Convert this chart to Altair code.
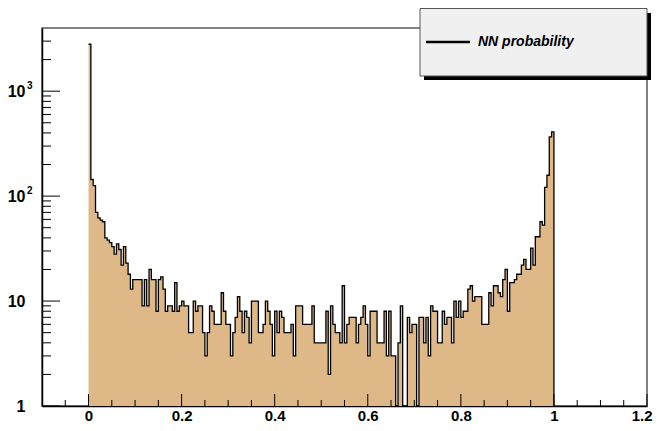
import altair as alt
import pandas as pd

# ---- data (200 bins of width 0.005 on [0, 1]) ----
counts = [
    2800, 144, 126, 70, 62, 59, 57, 40, 38, 36,
    33, 28, 35, 31, 22, 33, 23, 18, 13, 16,
    16, 16, 16, 9, 16, 9, 20, 16, 16, 8,
    16, 17, 13, 8, 9, 9, 8, 15, 8, 9,
    10, 9, 9, 5, 5, 10, 8, 9, 9, 5,
    3, 5, 9, 8, 6, 6, 6, 12, 8, 6,
    6, 3, 5, 7, 11, 8, 5, 8, 7, 4,
    10, 10, 10, 5, 5, 6, 10, 8, 6, 3,
    8, 5, 8, 7, 5, 5, 5, 6, 3, 9,
    9, 9, 6, 6, 6, 6, 9, 4, 4, 4,
    4, 4, 8, 2, 9, 6, 5, 5, 4, 14,
    4, 6, 7, 7, 7, 4, 6, 7, 9, 6,
    3, 8, 8, 8, 4, 4, 4, 8, 3, 8,
    3, 3, 0, 4, 9, 0, 0, 7, 5, 6,
    6, 0, 7, 7, 4, 7, 3, 9, 8, 8,
    4, 4, 8, 6, 7, 7, 4, 10, 7, 10,
    7, 8, 8, 13, 14, 10, 11, 11, 11, 6,
    6, 6, 12, 9, 14, 14, 12, 11, 16, 20,
    8, 15, 15, 16, 18, 18, 22, 25, 20, 20,
    32, 22, 41, 41, 57, 53, 121, 158, 367, 410,
]
hist_min = 0.0
hist_max = 1.0

x_major = [0.0, 0.2, 0.4, 0.6, 0.8, 1.0, 1.2]
x_minor = [-0.05, 0.05, 0.1, 0.15, 0.25, 0.3, 0.35, 0.45, 0.5, 0.55,
           0.65, 0.7, 0.75, 0.85, 0.9, 0.95, 1.05, 1.1, 1.15]
y_major = [1, 10, 100, 1000]
y_minor = [2, 3, 4, 5, 6, 7, 8, 9,
           20, 30, 40, 50, 60, 70, 80, 90,
           200, 300, 400, 500, 600, 700, 800, 900,
           2000, 3000]
sup_values = [100, 1000]
sup_texts = ["2", "3"]
legend_label = "NN probability"

# ---- layout / style ----
W, H = 605, 378
X_DOMAIN = [-0.1, 1.2]
Y_DOMAIN = [1, 4000]
FILL = "#DEB887"
FONT = "Liberation Sans"

n = len(counts)
bw = (hist_max - hist_min) / n
edges = [hist_min + i * bw for i in range(n)] + [hist_max]
shown = [max(c, 1) for c in counts]

step_df = pd.DataFrame({"x": edges, "y": shown + [shown[-1]], "base": 1})
step_df["order"] = range(len(step_df))
outline_df = pd.concat(
    [step_df, pd.DataFrame({"x": [hist_max], "y": [1], "base": [1], "order": [len(step_df)]})],
    ignore_index=True,
)

xs = alt.Scale(domain=X_DOMAIN, nice=False, zero=False)
ys = alt.Scale(type="log", domain=Y_DOMAIN, nice=False)

x_axis = alt.Axis(
    values=x_major, labelExpr="format(datum.value, '~g')", ticks=False, grid=False,
    labelFont=FONT, labelFontWeight="bold", labelFontSize=15, labelPadding=2,
    labelFlush=True, labelFlushOffset=5,
    domainColor="black", domainWidth=1.5, title=None, labelColor="black",
)
y_axis = alt.Axis(
    values=y_major, labelExpr="datum.value >= 100 ? '10' : format(datum.value, 'd')",
    ticks=False, grid=False, labelFont=FONT, labelFontWeight="bold", labelFontSize=16,
    labelPadding=17, domainColor="black", domainWidth=1.5, title=None, labelColor="black",
)

def X(field):
    return alt.X(field, type="quantitative", scale=xs, axis=x_axis)

def Y(field):
    return alt.Y(field, type="quantitative", scale=ys, axis=y_axis)

area = alt.Chart(step_df).mark_area(interpolate="step-after", color=FILL, opacity=1).encode(
    x=X("x"), y=Y("y"), y2="base:Q"
)
outline = alt.Chart(outline_df).mark_line(
    interpolate="step-after", color="black", strokeWidth=1.3
).encode(x=X("x"), y=Y("y"), order="order:Q")

xmaj = alt.Chart(pd.DataFrame({"x": x_major})).mark_rule(color="black", strokeWidth=1).encode(
    x=X("x"), y=alt.value(H), y2=alt.value(H - 12)
)
xmin = alt.Chart(pd.DataFrame({"x": x_minor})).mark_rule(color="black", strokeWidth=1).encode(
    x=X("x"), y=alt.value(H), y2=alt.value(H - 6)
)
ymaj = alt.Chart(pd.DataFrame({"y": y_major})).mark_rule(color="black", strokeWidth=1).encode(
    y=Y("y"), x=alt.value(0), x2=alt.value(18)
)
ymin = alt.Chart(pd.DataFrame({"y": y_minor})).mark_rule(color="black", strokeWidth=1).encode(
    y=Y("y"), x=alt.value(0), x2=alt.value(9)
)
sup = alt.Chart(pd.DataFrame({"y": sup_values, "t": sup_texts})).mark_text(
    font=FONT, fontWeight="bold", fontSize=10, align="left", baseline="middle", dy=-5, color="black"
).encode(y=Y("y"), x=alt.value(-15), text="t:N")

one = pd.DataFrame({"k": [0]})
shadow = alt.Chart(one).mark_rect(color="black").encode(
    x=alt.value(382), x2=alt.value(609), y=alt.value(-15), y2=alt.value(52)
)
box = alt.Chart(one).mark_rect(fill="#F0F0F0", stroke="#555555", strokeWidth=1).encode(
    x=alt.value(378), x2=alt.value(605), y=alt.value(-19.5), y2=alt.value(48)
)
leg_line = alt.Chart(one).mark_rule(color="black", strokeWidth=2.5).encode(
    x=alt.value(384), x2=alt.value(428), y=alt.value(14)
)
leg_text = alt.Chart(pd.DataFrame({"t": [legend_label]})).mark_text(
    font=FONT, fontWeight="bold", fontStyle="italic", fontSize=14, align="left",
    baseline="middle", color="black"
).encode(x=alt.value(436), y=alt.value(13.5), text="t:N")

chart = alt.layer(
    area, outline, xmaj, xmin, ymaj, ymin, sup, shadow, box, leg_line, leg_text
).properties(
    width=W, height=H,
    padding={"left": 34, "top": 20, "right": 6, "bottom": 17},
    autosize=alt.AutoSizeParams(type="none"),
    background="white",
).configure_view(stroke="#5a5a5a", strokeWidth=1.5)

chart.save("out.html", embed_options={"renderer": "svg", "actions": False})
